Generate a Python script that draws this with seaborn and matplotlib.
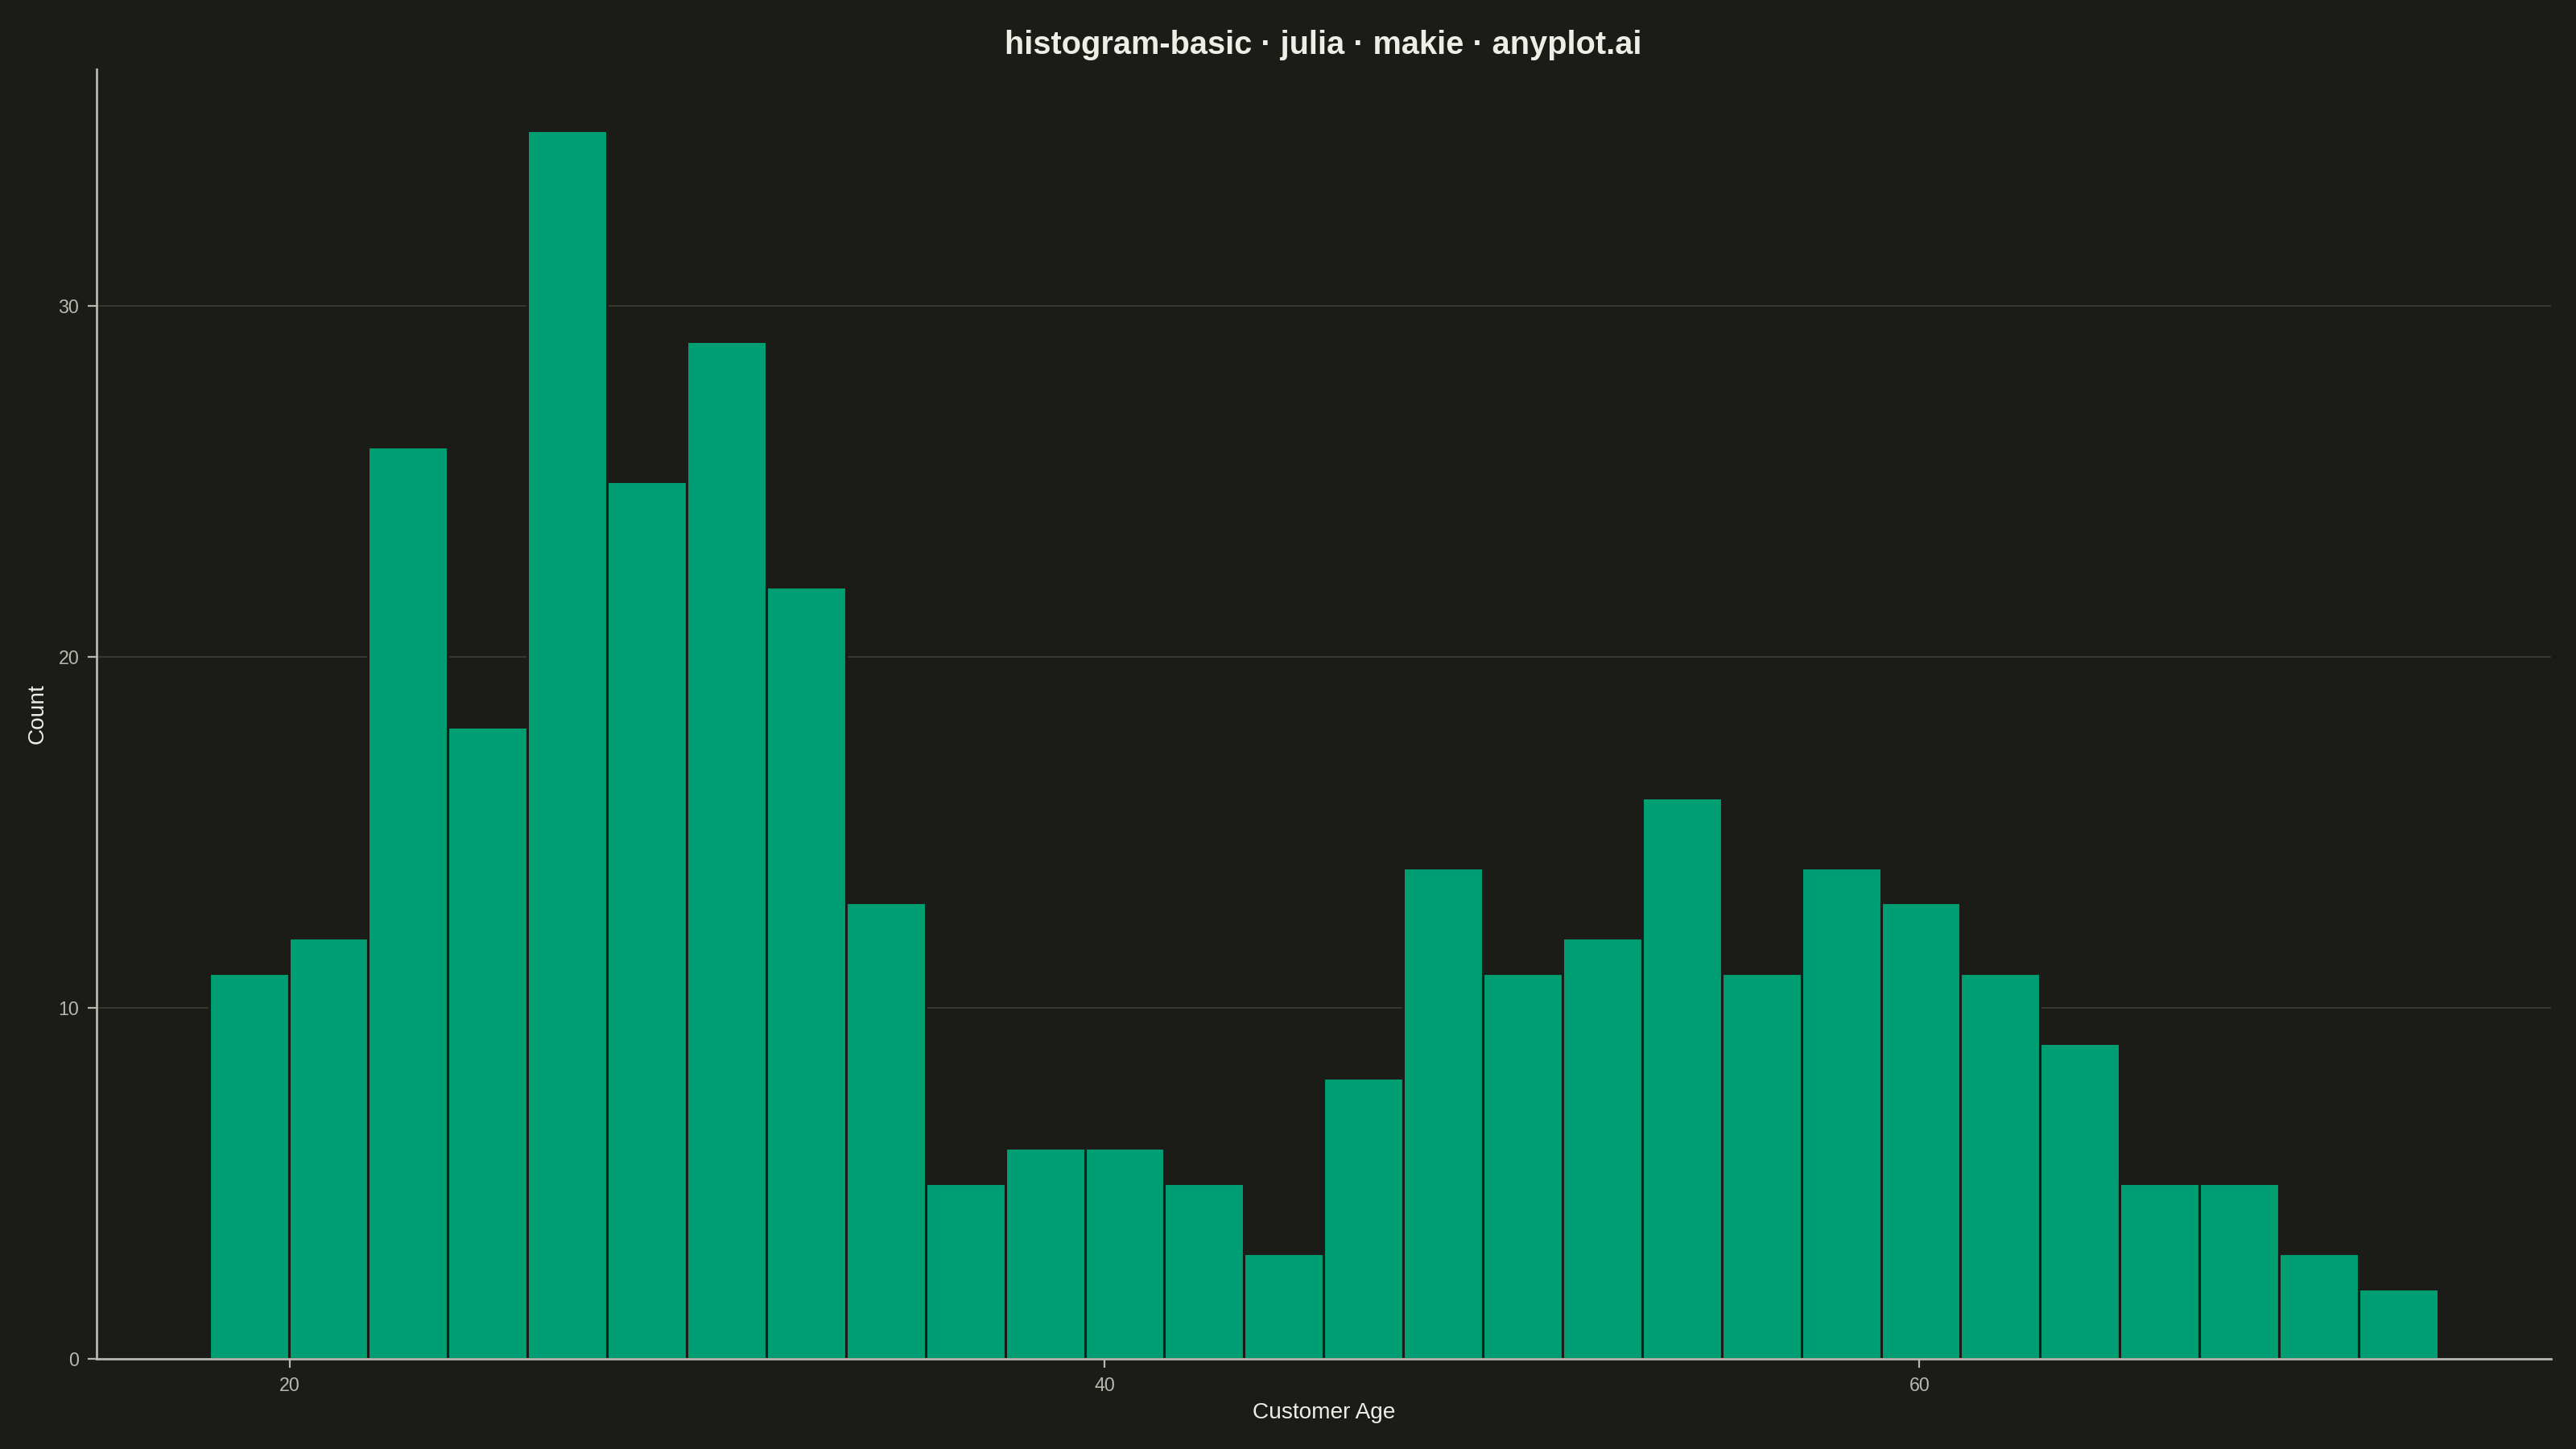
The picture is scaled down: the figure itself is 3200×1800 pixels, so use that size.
import numpy as np
import pandas as pd
import matplotlib
matplotlib.use("Agg")
import matplotlib.pyplot as plt
import seaborn as sns

# Histogram data (28 equal-width bins)
bin_start = 18.02
bin_width = 1.954
counts = [11, 12, 26, 18, 35, 25, 29, 22, 13, 5, 6, 6, 5, 3,
          8, 14, 11, 12, 16, 11, 14, 13, 11, 9, 5, 5, 3, 2]
x_ticks = [20, 40, 60]
y_ticks = [0, 10, 20, 30]

BG = "#1b1b17"
BAR = "#009e73"
SPINE = "#b8b8b0"
GRID = "#38382f"
TICK_TEXT = "#b8b8b0"
LABEL_TEXT = "#eeeee6"


def set_plotting_style():
    """
    Dark theme similar to the reference.
    """
    sns.set_theme(style="white")
    plt.rcParams["font.family"] = ["Liberation Sans", "DejaVu Sans"]
    plt.rcParams["figure.facecolor"] = BG
    plt.rcParams["axes.facecolor"] = BG
    plt.rcParams["savefig.facecolor"] = BG


def plot_histogram(output_path="out.png"):
    set_plotting_style()

    n_bins = len(counts)
    bin_end = bin_start + bin_width * n_bins
    edges = bin_start + bin_width * np.arange(n_bins + 1)
    hist_df = pd.DataFrame({
        "age": (edges[:-1] + edges[1:]) / 2,
        "count": counts,
    })

    fig = plt.figure(figsize=(16, 9), dpi=200)
    ax = fig.add_axes([0.0375, 0.0622, 0.9528, 0.8900])

    # bars from counts through seaborn's own binning
    sns.histplot(data=hist_df, x="age", weights="count",
                 bins=n_bins, binrange=(bin_start, bin_end), ax=ax,
                 color=BAR, alpha=1.0, edgecolor=BG, linewidth=1.1,
                 zorder=2)

    ax.set_xlim(15.26, 75.5)
    ax.set_ylim(0, 36.75)
    ax.set_xticks(x_ticks)
    ax.set_yticks(y_ticks)

    # horizontal grid only
    ax.yaxis.grid(True, color=GRID, linewidth=0.7, zorder=0)
    ax.xaxis.grid(False)
    ax.set_axisbelow(True)

    for side in ["top", "right"]:
        ax.spines[side].set_visible(False)
    for side in ["left", "bottom"]:
        ax.spines[side].set_color(SPINE)
        ax.spines[side].set_linewidth(1.0)

    ax.tick_params(axis="both", which="major", direction="out",
                   length=4, width=0.8, color=SPINE, labelcolor=TICK_TEXT,
                   labelsize=8.4, pad=3.8, bottom=True, left=True)

    # labels and title
    ax.set_xlabel("Customer Age", fontsize=10.1, color=LABEL_TEXT, va="center")
    ax.set_ylabel("Count", fontsize=10.1, color=LABEL_TEXT, va="center", ha="center")
    ax.xaxis.set_label_coords(0.5, -0.0418)
    ax.yaxis.set_label_coords(-0.024, 0.5)
    fig.text(0.5136, 0.969, "histogram-basic · julia · makie · anyplot.ai",
             ha="center", va="center", fontsize=14.3, fontweight="bold",
             color=LABEL_TEXT)

    fig.savefig(output_path, dpi=200, facecolor=BG)
    return fig


if __name__ == "__main__":
    plot_histogram()
